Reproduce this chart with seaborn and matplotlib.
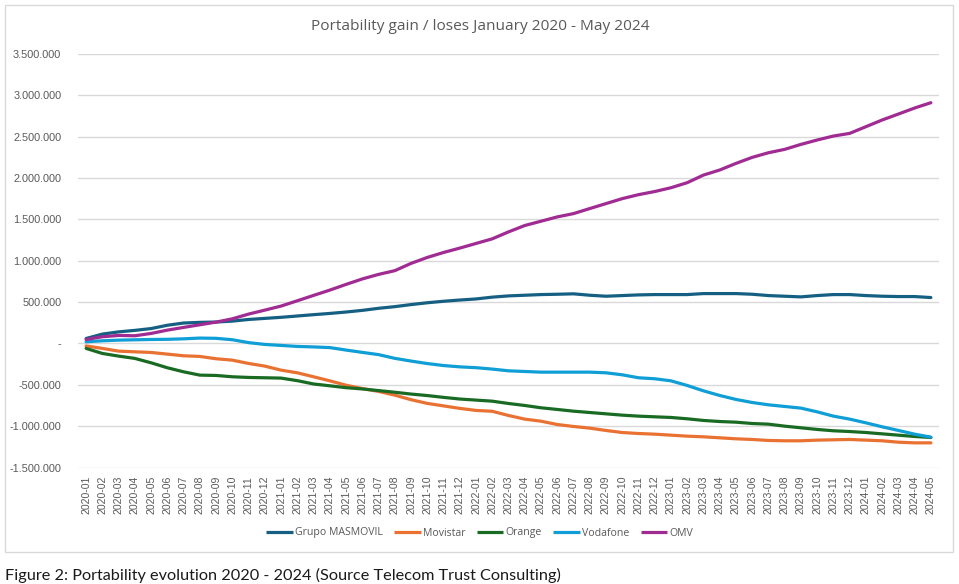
import numpy as np
import pandas as pd
import matplotlib
matplotlib.use("Agg")
import matplotlib.pyplot as plt
from matplotlib.patches import Rectangle
from matplotlib.ticker import FuncFormatter, MultipleLocator
import seaborn as sns

# ---------------- data (values in thousands) ----------------
months = [f"{y}-{m:02d}" for y in range(2020, 2025) for m in range(1, 13)][:53]

series_names = ["Grupo MASMOVIL", "Movistar", "Orange", "Vodafone", "OMV"]

masmovil = [60, 113, 140, 158, 180, 220, 247, 255, 259, 270,
            290, 303, 316, 332, 348, 363, 380, 400, 425, 445,
            470, 492, 510, 525, 538, 560, 575, 583, 591, 595,
            600, 583, 571, 579, 587, 591, 591, 591, 603, 603,
            603, 595, 579, 571, 563, 579, 591, 591, 579, 571,
            567, 567, 555]

movistar = [-30, -60, -93, -101, -109, -129, -149, -157, -185, -202,
            -242, -274, -323, -355, -403, -452, -505, -545, -580, -625,
            -680, -725, -755, -785, -810, -820, -871, -915, -940, -980,
            -1004, -1024, -1052, -1077, -1089, -1097, -1109, -1121, -1129, -1141,
            -1153, -1161, -1173, -1177, -1177, -1169, -1165, -1161, -1169, -1177,
            -1194, -1202, -1202]

orange = [-60, -121, -153, -181, -234, -294, -343, -383, -387, -403,
          -411, -415, -419, -450, -490, -512, -535, -550, -570, -590,
          -612, -630, -652, -672, -685, -698, -726, -750, -778, -798,
          -819, -835, -851, -867, -879, -887, -895, -911, -931, -944,
          -952, -968, -976, -1000, -1020, -1040, -1056, -1065, -1077, -1093,
          -1109, -1125, -1137]

vodafone = [20, 32, 40, 44, 48, 50, 56, 65, 62, 45,
            10, -12, -24, -36, -42, -50, -80, -108, -135, -180,
            -213, -243, -267, -283, -293, -310, -331, -339, -347, -347,
            -347, -347, -355, -379, -415, -427, -452, -508, -573, -629,
            -677, -714, -742, -762, -782, -827, -879, -915, -960, -1008,
            -1052, -1097, -1133]

omv = [48, 81, 97, 93, 121, 161, 194, 226, 258, 298,
       355, 403, 452, 516, 581, 645, 714, 780, 835, 880,
       968, 1040, 1100, 1153, 1209, 1265, 1349, 1426, 1478, 1530,
       1570, 1631, 1691, 1751, 1799, 1837, 1883, 1944, 2036, 2097,
       2177, 2250, 2306, 2347, 2407, 2460, 2508, 2540, 2621, 2702,
       2774, 2847, 2911]

colors = ["#156082", "#E97132", "#196B24", "#0F9ED5", "#A02B93"]

title = "Portability gain / loses January 2020 - May 2024"
caption = "Figure 2: Portability evolution 2020 - 2024 (Source Telecom Trust Consulting)"

# ---------------- build table ----------------
values = [masmovil, movistar, orange, vodafone, omv]
frames = []
for name, vals in zip(series_names, values):
    frames.append(pd.DataFrame({"month": months,
                                "value": np.array(vals) * 1000,
                                "series": name}))
df = pd.concat(frames, ignore_index=True)

# ---------------- plot ----------------
sns.set_theme(style="white")
plt.rcParams["font.family"] = ["Liberation Sans", "DejaVu Sans"]

W, H = 959, 584
fig = plt.figure(figsize=(W / 100, H / 100), dpi=100)
ax = fig.add_axes([78 / W, 1 - 467.5 / H, (939 - 78) / W, (467.5 - 54) / H])

sns.lineplot(data=df, x="month", y="value", hue="series",
             hue_order=series_names, palette=dict(zip(series_names, colors)),
             linewidth=2.3, ax=ax, sort=False,
             solid_capstyle="round", solid_joinstyle="round")

ax.set_xlim(-0.5, len(months) - 0.5)
ax.set_ylim(-1_500_000, 3_500_000)
ax.yaxis.set_major_locator(MultipleLocator(500_000))


def fmt(v, pos):
    if abs(v) < 1:
        return "-"
    return f"{int(round(v)):,}".replace(",", ".")


ax.yaxis.set_major_formatter(FuncFormatter(fmt))
ax.grid(axis="y", color="#d9d9d9", linewidth=1)
ax.grid(axis="x", visible=False)
ax.set_axisbelow(True)
for s in ax.spines.values():
    s.set_visible(False)
ax.set_xlabel("")
ax.set_ylabel("")
ax.tick_params(axis="y", length=0, pad=12, labelsize=7.8, labelcolor="#595959")
ax.tick_params(axis="x", length=0, pad=6, labelsize=7.6, labelcolor="#595959",
               labelrotation=90)

sns.move_legend(ax, loc="center", bbox_to_anchor=(0.5, 1 - 533 / H),
                bbox_transform=fig.transFigure, ncol=5, frameon=False,
                title=None, handlelength=2.5, handletextpad=0.2,
                columnspacing=1.1, prop={"family": "Open Sans", "size": 7.6})
for t in ax.get_legend().get_texts():
    t.set_color("#595959")
for h in ax.get_legend().legend_handles:
    h.set_linewidth(2.3)
    h.set_solid_capstyle("butt")

fig.text(480 / W, 1 - 27 / H, title, ha="center", va="center",
         fontsize=11.1, color="#595959", family="Open Sans")

fig.text(5 / W, 1 - 575 / H, caption, ha="left", va="center",
         fontsize=11.7, color="#1a1a1a", family="Lato")

fig.patches.append(Rectangle((5 / W, 1 - 552 / H), (953 - 5) / W, (552 - 5) / H,
                             transform=fig.transFigure, fill=False,
                             edgecolor="#d9d9d9", linewidth=1))

fig.savefig("out.png", dpi=100)
